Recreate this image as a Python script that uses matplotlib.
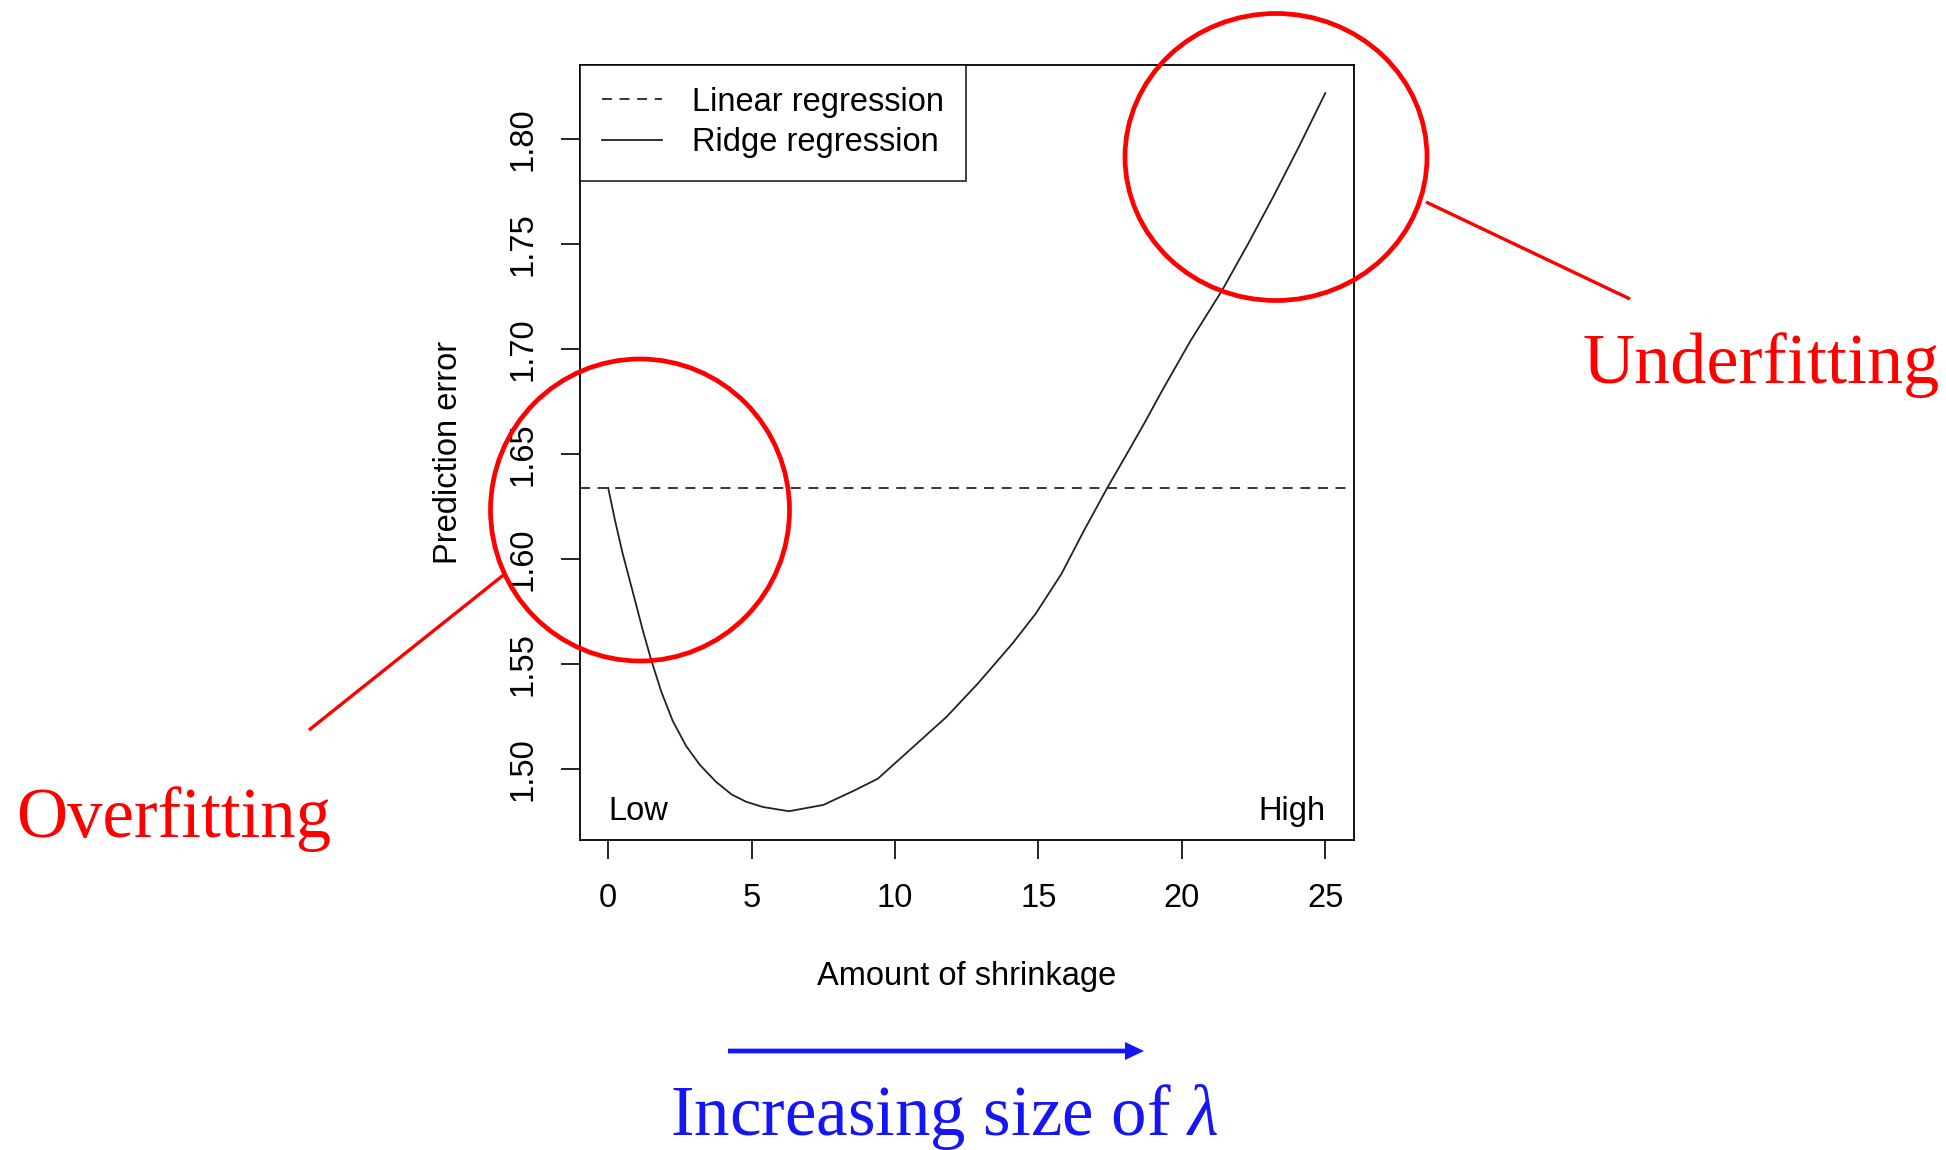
import matplotlib
matplotlib.use('Agg')
import matplotlib.pyplot as plt
from matplotlib.patches import Ellipse

plt.rcParams['font.family'] = ['Liberation Sans', 'DejaVu Sans']
plt.rcParams['mathtext.fontset'] = 'custom'
plt.rcParams['mathtext.it'] = 'Liberation Serif:italic'
plt.rcParams['mathtext.rm'] = 'Liberation Serif'

# values
shrinkage = [0, 0.23, 0.5, 0.75, 1.0, 1.21, 1.5, 1.85, 2.25, 2.72, 3.2, 3.76,
             4.3, 4.81, 5.4, 6.3, 7.5, 8.6, 9.4, 10.5, 11.8, 12.9, 14.1,
             14.9, 15.8, 16.6, 17.4, 18.2, 18.7, 19.3, 20.3, 21.4, 22.3,
             23.2, 24.1, 25]
ridge_error = [1.634, 1.619, 1.603, 1.590, 1.577, 1.566, 1.552, 1.537, 1.523,
               1.511, 1.502, 1.494, 1.488, 1.4845, 1.482, 1.480, 1.483, 1.490,
               1.4955, 1.509, 1.525, 1.541, 1.560, 1.574, 1.593, 1.614, 1.634,
               1.653, 1.665, 1.680, 1.704, 1.728, 1.750, 1.773, 1.797, 1.822]
linear_error = 1.634
x_ticks = [0, 5, 10, 15, 20, 25]
y_ticks = [1.50, 1.55, 1.60, 1.65, 1.70, 1.75, 1.80]
y_ticklabels = ['1.50', '1.55', '1.60', '1.65', '1.70', '1.75', '1.80']

RED = '#ff0000'
BLUE = '#1515f5'
FS = 23.5

W, H = 1946, 1150
fig = plt.figure(figsize=(W / 100, H / 100), dpi=100)
ax = fig.add_axes([579.5 / W, 1 - 840 / H, (1354 - 579.5) / W, (840 - 64.5) / H])

dashed, = ax.plot([], [], color='black', lw=1.1, dashes=(6.5, 5))
ax.axhline(linear_error, color='black', lw=1.1, dashes=(6.5, 5))
solid, = ax.plot(shrinkage, ridge_error, color='#222222', lw=1.3)

ax.set_xlim(-1, 26)
ax.set_ylim(1.4663, 1.8356)
ax.set_xticks(x_ticks)
ax.set_yticks(y_ticks)
ax.set_yticklabels(y_ticklabels, rotation=90, va='center')
ax.tick_params(direction='out', length=13.7, width=1.2, labelsize=FS, color='black')
ax.tick_params(axis='x', pad=17)
ax.tick_params(axis='y', pad=16)
for s in ax.spines.values():
    s.set_linewidth(1.3)
ax.set_xlabel('Amount of shrinkage', fontsize=FS, labelpad=34)
ax.set_ylabel('Prediction error', fontsize=FS, labelpad=31)

ax.text(0, 1.48, 'Low', fontsize=FS, ha='left', va='center')
ax.text(25, 1.48, 'High', fontsize=FS, ha='right', va='center')

leg = ax.legend([dashed, solid], ['Linear regression', 'Ridge regression'],
                loc='upper left', fontsize=FS, frameon=True, fancybox=False,
                borderaxespad=0, handlelength=1.85, handletextpad=0.92,
                labelspacing=0.3, borderpad=0.68)
leg.get_frame().set_edgecolor('black')
leg.get_frame().set_linewidth(1.3)

# annotation layer in pixel coordinates
ov = fig.add_axes([0, 0, 1, 1], zorder=5)
ov.set_xlim(0, W)
ov.set_ylim(H, 0)
ov.axis('off')
ov.patch.set_alpha(0)

ov.add_patch(Ellipse((640, 510), 299, 302, fill=False, ec=RED, lw=3.4))
ov.add_patch(Ellipse((1276, 157), 302, 287, fill=False, ec=RED, lw=3.4))
ov.plot([506, 309], [573, 730], color=RED, lw=2.4, solid_capstyle='butt')
ov.plot([1426, 1630], [202, 299], color=RED, lw=2.4, solid_capstyle='butt')

ov.text(16, 837, 'Overfitting', color=RED, fontsize=51,
        family='Liberation Serif', ha='left', va='baseline')
ov.text(1583, 383, 'Underfitting', color=RED, fontsize=52,
        family='Liberation Serif', ha='left', va='baseline')

ov.arrow(728, 1051, 416, 0, width=4.7, head_width=18, head_length=19,
         length_includes_head=True, color=BLUE, lw=0)
ov.text(670, 1135, r'Increasing size of $\lambda$', color=BLUE, fontsize=51,
        family='Liberation Serif', ha='left', va='baseline')

fig.savefig('out.png', dpi=100)
